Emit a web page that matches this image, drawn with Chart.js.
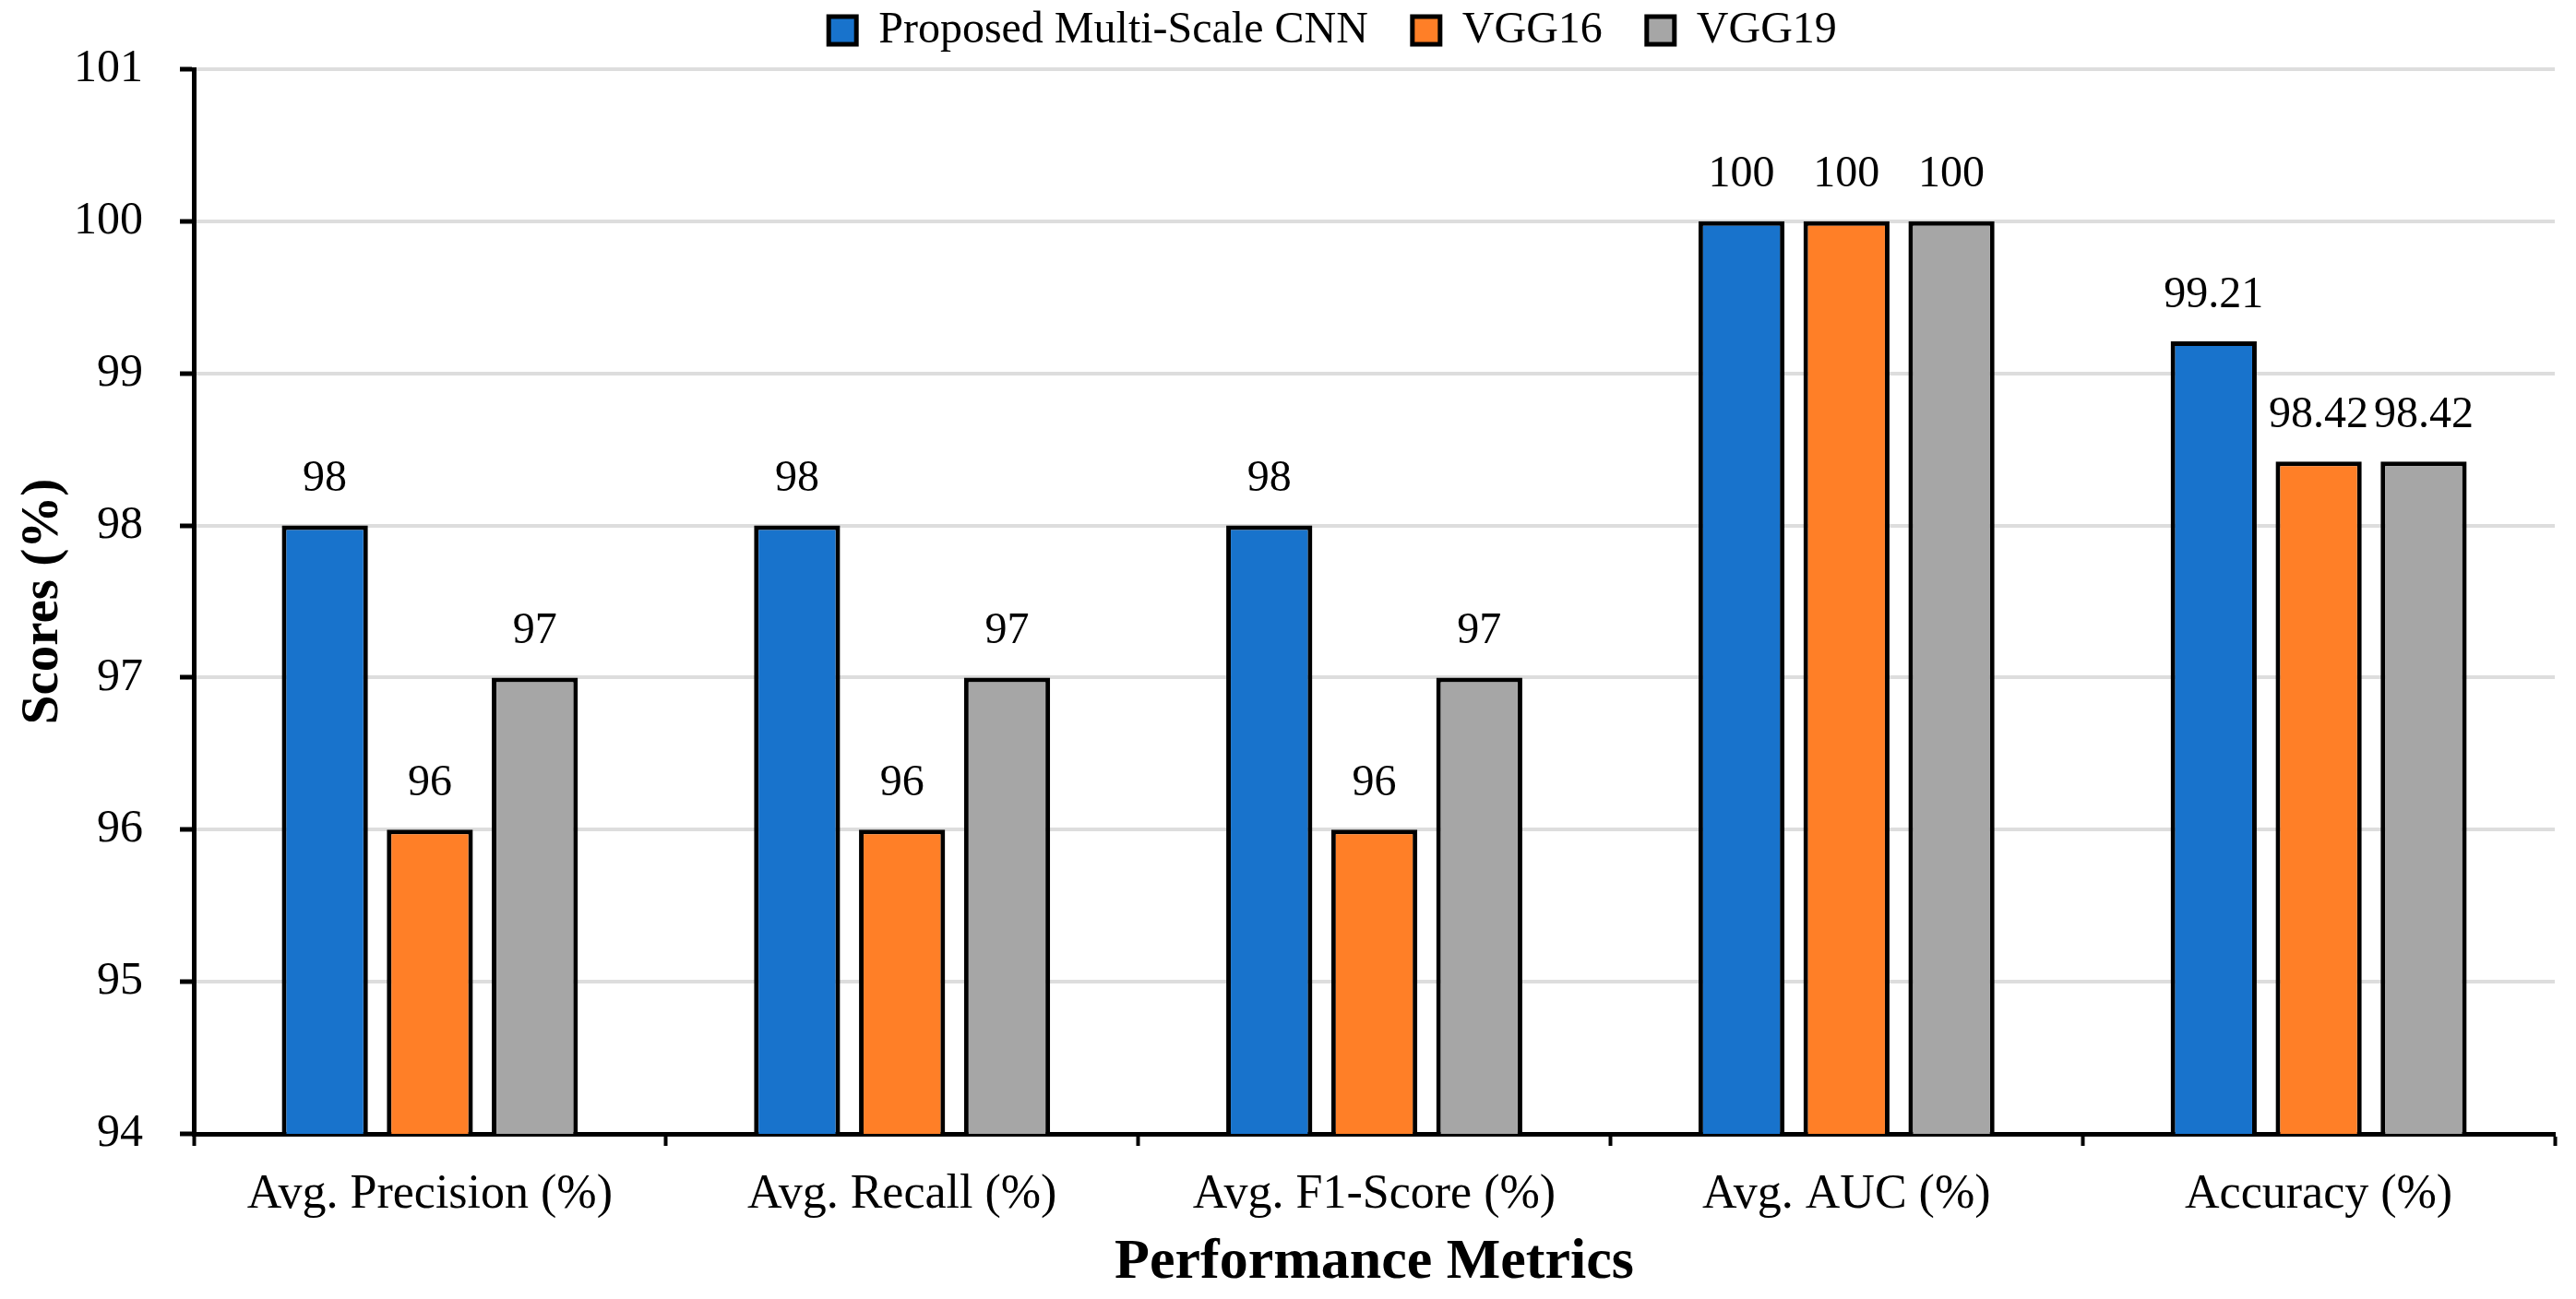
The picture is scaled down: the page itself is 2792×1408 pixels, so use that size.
<!DOCTYPE html>
<html>
<head>
<meta charset="utf-8">
<script src="https://cdn.jsdelivr.net/npm/chart.js@4.4.1/dist/chart.umd.min.js"></script>
<style>
  html, body { margin: 0; padding: 0; background: #ffffff; }
  #wrap { width: 2792px; height: 1408px; position: relative; }
</style>
</head>
<body>
<div id="wrap"><canvas id="c" width="2792" height="1408"></canvas></div>
<script>
const categories = ['Avg. Precision (%)', 'Avg. Recall (%)', 'Avg. F1-Score (%)', 'Avg. AUC (%)', 'Accuracy (%)'];
const seriesNames = ['Proposed Multi-Scale CNN', 'VGG16', 'VGG19'];
const proposedValues = [98, 98, 98, 100, 99.21];
const vgg16Values = [96, 96, 96, 100, 98.42];
const vgg19Values = [97, 97, 97, 100, 98.42];
const yTicks = [94, 95, 96, 97, 98, 99, 100, 101];

const FONT = "'Liberation Serif', 'Times New Roman', serif";
const colors = ['#1873CC', '#FF7F27', '#A6A6A6'];
const LAYOUT_TOP = -39;
const LEGEND_SHIFT = 60;

const valueLabels = {
  id: 'valueLabels',
  afterDatasetsDraw(chart) {
    const ctx = chart.ctx;
    ctx.save();
    ctx.font = '48px ' + FONT;
    ctx.fillStyle = '#000';
    ctx.textAlign = 'center';
    ctx.textBaseline = 'middle';
    chart.data.datasets.forEach((ds, i) => {
      const meta = chart.getDatasetMeta(i);
      meta.data.forEach((bar, j) => {
        ctx.fillText(String(ds.data[j]), bar.x, bar.y - 50);
      });
    });
    ctx.restore();
  }
};

const legendFix = {
  id: 'legendFix',
  beforeLayout(chart) {
    const lg = chart.legend;
    if (lg && !lg._fixed) {
      const f = lg.fit;
      lg.fit = function () { f.call(this); this.height = 75 - LAYOUT_TOP; };
      lg._fixed = true;
    }
  },
  afterLayout(chart) {
    const lg = chart.legend;
    if (lg) { lg.left += LEGEND_SHIFT; lg.right += LEGEND_SHIFT; }
  }
};

new Chart(document.getElementById('c'), {
  type: 'bar',
  data: {
    labels: categories,
    datasets: [
      { label: seriesNames[0], data: proposedValues, backgroundColor: colors[0] },
      { label: seriesNames[1], data: vgg16Values, backgroundColor: colors[1] },
      { label: seriesNames[2], data: vgg19Values, backgroundColor: colors[2] }
    ].map(d => Object.assign(d, {
      borderColor: '#000', borderWidth: 5, borderSkipped: false,
      barPercentage: 0.82, categoryPercentage: 0.667
    }))
  },
  options: {
    responsive: false,
    animation: false,
    devicePixelRatio: 1,
    layout: { padding: { top: LAYOUT_TOP, left: 0, right: 23, bottom: 0 } },
    plugins: {
      legend: {
        position: 'top',
        labels: {
          font: { family: FONT, size: 48 },
          color: '#000',
          boxWidth: 30,
          boxHeight: 30,
          padding: 48
        }
      },
      tooltip: { enabled: false }
    },
    scales: {
      x: {
        afterFit(s) { s.height = 179; },
        grid: {
          display: true, drawOnChartArea: false, drawTicks: true,
          offset: true, tickLength: 13, tickColor: '#000', tickWidth: 4, color: '#000'
        },
        border: { display: true, color: '#000', width: 5 },
        ticks: { font: { family: FONT, size: 52 }, color: '#000', padding: 22 },
        title: {
          display: true, text: 'Performance Metrics',
          font: { family: FONT, size: 62, weight: 'bold' }, color: '#000',
          padding: { top: 0, bottom: 2 }
        }
      },
      y: {
        min: 94, max: 101,
        afterFit(s) { s.width = 210; },
        afterBuildTicks(s) { s.ticks = yTicks.map(v => ({ value: v })); },
        grid: {
          color: '#DDDDDD', lineWidth: 4, drawTicks: true,
          tickLength: 15, tickColor: '#000', tickWidth: 5
        },
        border: { display: true, color: '#000', width: 5 },
        ticks: { font: { family: FONT, size: 50 }, color: '#000', padding: 40, stepSize: 1 },
        title: {
          display: true, text: 'Scores (%)',
          font: { family: FONT, size: 57, weight: 'bold' }, color: '#000',
          padding: { top: 13, bottom: 0 }
        }
      }
    }
  },
  plugins: [valueLabels, legendFix]
});
</script>
</body>
</html>
